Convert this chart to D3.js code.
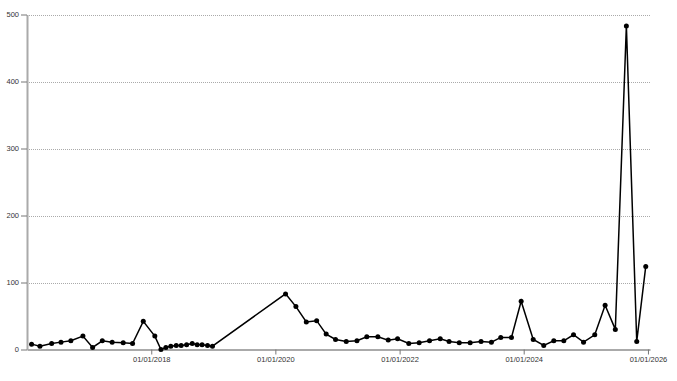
<!DOCTYPE html>
<html>
<head>
<meta charset="utf-8">
<script src="https://cdn.jsdelivr.net/npm/d3@7"></script>
<style>
    body { margin: 0; background: #fff; }
    .tick text { font-family: "Liberation Sans", Arial, sans-serif; font-size: 7.5px; fill: #333; }
</style>
</head>
<body>
<svg id="chart" width="677" height="381"></svg>
<script>
    // Dates of the samples (irregular spacing)
    const dates = [
        '2016-01-28', '2016-03-17', '2016-05-25', '2016-07-19', '2016-09-15', '2016-11-25',
        '2017-01-21', '2017-03-19', '2017-05-16', '2017-07-20', '2017-09-13', '2017-11-15',
        '2018-01-22', '2018-02-27', '2018-03-28', '2018-04-26', '2018-05-28', '2018-06-26',
        '2018-07-28', '2018-08-30', '2018-09-28', '2018-10-27', '2018-11-28', '2018-12-27',
        '2020-03-01', '2020-05-01', '2020-07-01', '2020-08-31', '2020-10-26', '2020-12-20',
        '2021-02-21', '2021-04-25', '2021-06-22', '2021-08-26', '2021-10-26', '2021-12-20',
        '2022-02-24', '2022-04-26', '2022-06-26', '2022-08-28', '2022-10-19', '2022-12-18',
        '2023-02-20', '2023-04-25', '2023-06-25', '2023-08-19', '2023-10-21', '2023-12-17',
        '2024-02-26', '2024-04-28', '2024-06-26', '2024-08-24', '2024-10-20', '2024-12-18',
        '2025-02-22', '2025-04-24', '2025-06-23', '2025-08-27', '2025-10-27', '2025-12-19'
    ];
    const values = [
        8, 5, 9, 11, 13, 20,
        3, 13, 11, 10, 9, 42,
        20, 0, 3, 5, 6, 6,
        7, 9, 7, 7, 6, 5,
        83, 64, 41, 43, 23, 15,
        12, 13, 19, 19, 14, 16,
        9, 10, 13, 16, 12, 10,
        10, 12, 11, 18, 18, 72,
        15, 6, 13, 13, 22, 11,
        22, 66, 30, 483, 12, 124
    ];
    const xTickLabels = ['2018-01-01', '2020-01-01', '2022-01-01', '2024-01-01', '2026-01-01'];
    const yTickValues = [0, 100, 200, 300, 400, 500];

    const parse = d3.timeParse('%Y-%m-%d');
    const data = dates.map((d, i) => ({ date: parse(d), value: values[i] }));

    const margin = { top: 14.5, right: 27, bottom: 31.5, left: 27 };
    const width = 677, height = 381;

    const svg = d3.select('#chart');

    const x = d3.scaleTime()
        .domain([parse('2016-01-01'), parse('2026-01-13')])
        .range([margin.left, width - margin.right]);

    const y = d3.scaleLinear()
        .domain([0, 500])
        .range([height - margin.bottom, margin.top]);

    // Horizontal dotted grid
    svg.append('g')
        .selectAll('line')
        .data(yTickValues.filter(v => v > 0))
        .enter()
        .append('line')
        .attr('x1', margin.left)
        .attr('x2', width - margin.right)
        .attr('y1', d => Math.round(y(d)) + 0.5)
        .attr('y2', d => Math.round(y(d)) + 0.5)
        .attr('stroke', '#aaa')
        .attr('stroke-width', 1)
        .attr('stroke-dasharray', '1,1');

    // Axes
    const xAxis = svg.append('g')
        .attr('transform', `translate(0,${height - margin.bottom})`)
        .call(d3.axisBottom(x)
            .tickValues(xTickLabels.map(parse))
            .tickFormat(d3.timeFormat('%d/%m/%Y'))
            .tickSize(5)
            .tickSizeOuter(0)
            .tickPadding(2));

    const yAxis = svg.append('g')
        .attr('transform', `translate(${margin.left},0)`)
        .call(d3.axisLeft(y)
            .tickValues(yTickValues)
            .tickSize(6)
            .tickSizeOuter(0)
            .tickPadding(2));

    [xAxis, yAxis].forEach(g => {
        g.select('.domain').attr('stroke', '#aaa').attr('stroke-width', 2);
        g.selectAll('.tick line').attr('stroke', '#777');
    });

    // Series line
    const line = d3.line()
        .x(d => x(d.date))
        .y(d => y(d.value));

    svg.append('path')
        .datum(data)
        .attr('d', line)
        .attr('fill', 'none')
        .attr('stroke', '#000')
        .attr('stroke-width', 1.5);

    svg.append('g')
        .selectAll('circle')
        .data(data)
        .enter()
        .append('circle')
        .attr('cx', d => x(d.date))
        .attr('cy', d => y(d.value))
        .attr('r', 2.5)
        .attr('fill', '#000');
</script>
</body>
</html>
